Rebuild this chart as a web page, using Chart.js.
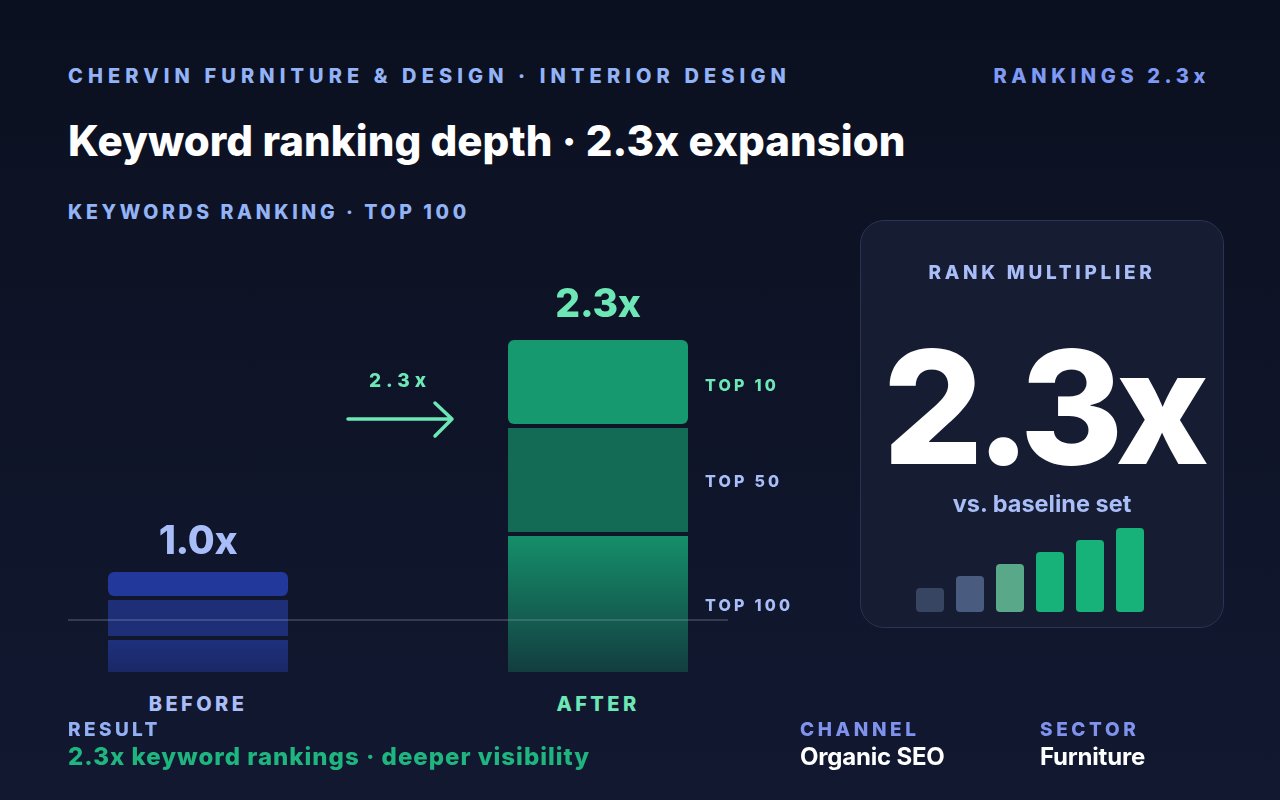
<!DOCTYPE html>
<html>
<head>
<meta charset="utf-8">
<script src="https://cdn.jsdelivr.net/npm/chart.js@4.4.1/dist/chart.umd.min.js"></script>
<style>
  html, body { margin: 0; padding: 0; }
  body {
    width: 1280px; height: 800px; overflow: hidden; position: relative;
    background: linear-gradient(180deg, #0b1020 0%, #121830 100%);
    font-family: Inter, "Noto Sans", sans-serif;
  }
  .t { position: absolute; white-space: nowrap; line-height: 1; }
  .kicker { font-size: 20px; font-weight: 800; letter-spacing: 5.1px; color: #93b3f7; }
  .title { font-size: 42px; font-weight: 800; letter-spacing: 0.05px; color: #ffffff; }
  .seg { font-size: 16px; font-weight: 800; letter-spacing: 3.2px; }
  .card {
    position: absolute; left: 860px; top: 220px; width: 362px; height: 406px;
    background: #161c32; border: 1.5px solid #2a3452; border-radius: 24px;
  }
  canvas { position: absolute; }
</style>
</head>
<body>

<!-- header -->
<div class="t kicker" style="left:68px; top:66px;">CHERVIN FURNITURE &amp; DESIGN · INTERIOR DESIGN</div>
<div class="t kicker" style="right:70px; top:66px; letter-spacing:4.6px; color:#7f9af5;">RANKINGS 2.3x</div>
<div class="t title" style="left:68px; top:120px;">Keyword ranking depth · 2.3x expansion</div>
<div class="t kicker" style="left:68px; top:203px; font-size:19.5px; letter-spacing:3.6px;">KEYWORDS RANKING · TOP 100</div>

<!-- main chart -->
<canvas id="depthChart" width="800" height="350" style="left:-2px; top:322px;"></canvas>
<div style="position:absolute; left:68px; top:619px; width:660px; height:1.5px; background:rgba(148,163,184,0.28);"></div>

<div class="t" style="left:98px; width:200px; text-align:center; top:520px; font-size:39px; font-weight:800; letter-spacing:-0.3px; color:#a9bdf8;">1.0x</div>
<div class="t" style="left:498px; width:200px; text-align:center; top:283px; font-size:39px; font-weight:800; letter-spacing:-0.3px; color:#6ee7b7;">2.3x</div>

<div class="t seg" style="left:705px; top:377px; color:#6ee7b7;">TOP 10</div>
<div class="t seg" style="left:705px; top:473px; color:#a9bdf8;">TOP 50</div>
<div class="t seg" style="left:705px; top:597px; color:#a9bdf8;">TOP 100</div>

<div class="t" style="left:98px; width:200px; text-align:center; top:694px; font-size:20px; font-weight:800; letter-spacing:3.4px; color:#a9bdf8;">BEFORE</div>
<div class="t" style="left:498px; width:200px; text-align:center; top:694px; font-size:20px; font-weight:800; letter-spacing:3.4px; color:#6ee7b7;">AFTER</div>

<!-- arrow -->
<div class="t" style="left:348px; width:104px; text-align:center; top:371px; font-size:19px; font-weight:800; letter-spacing:5px; color:#6ee7b7;">2.3x</div>
<svg style="position:absolute; left:0; top:0;" width="1280" height="800">
  <path d="M348 419 L452 419 M435 403 L452 419 L435 436" fill="none" stroke="#6ee7b7" stroke-width="3.5" stroke-linecap="round" stroke-linejoin="round"/>
</svg>

<!-- card -->
<div class="card"></div>
<div class="t" style="left:860px; width:364px; text-align:center; top:263px; font-size:19px; font-weight:800; letter-spacing:3.7px; color:#a9bdf8;">RANK MULTIPLIER</div>
<div class="t" style="left:860px; width:364px; text-align:center; top:328px; font-size:158px; font-weight:800; letter-spacing:-8px; color:#ffffff;">2.3x</div>
<div class="t" style="left:860px; width:364px; text-align:center; top:492px; font-size:23.5px; font-weight:700; color:#a9bdf8;">vs. baseline set</div>
<canvas id="miniChart" width="240" height="84" style="left:910px; top:528px;"></canvas>

<!-- footer -->
<div class="t kicker" style="left:68px; top:720px; font-size:19px; letter-spacing:3.4px; color:#93b0f5;">RESULT</div>
<div class="t" style="left:68px; top:745px; font-size:24px; font-weight:800; letter-spacing:1px; color:#1fb57f;">2.3x keyword rankings · deeper visibility</div>
<div class="t kicker" style="left:800px; top:720px; font-size:19px; letter-spacing:3.6px; color:#7f93ee;">CHANNEL</div>
<div class="t" style="left:800px; top:745px; font-size:24px; font-weight:700; letter-spacing:-0.2px; color:#ffffff;">Organic SEO</div>
<div class="t kicker" style="left:1040px; top:720px; font-size:19px; letter-spacing:3.6px; color:#7f93ee;">SECTOR</div>
<div class="t" style="left:1040px; top:745px; font-size:24px; font-weight:700; letter-spacing:-0.2px; color:#ffffff;">Furniture</div>

<script>
// --- data ---
const periods = ['BEFORE', 'AFTER'];
const top100 = [36, 140];   // bottom block (incl. 4-unit gap above)
const top50 = [40, 108];
const top10 = [24, 84];

const miniLabels = ['1', '2', '3', '4', '5', '6'];
const miniValues = [2, 3, 4, 5, 6, 7];
const miniColors = ['#374462', '#4a5b80', '#5aa88a', '#16b27a', '#16b27a', '#16b27a'];

const topColors = ['#22389b', '#17996f'];
const midColors = ['#1e2f78', '#136a55'];
const gradStops = [['#1f3280', '#1b2766'], ['#15916b', '#133d40']];

const gap = { top: 4, right: 0, bottom: 0, left: 0 };

// bottom block fades out towards the floor
function bottomFill(context) {
    const chart = context.chart;
    const i = context.dataIndex;
    if (!chart.chartArea) return gradStops[i][0];
    const y = chart.scales.y;
    const g = chart.ctx.createLinearGradient(0, y.getPixelForValue(top100[i]), 0, y.getPixelForValue(0));
    g.addColorStop(0, gradStops[i][0]);
    g.addColorStop(1, gradStops[i][1]);
    return g;
}

new Chart(document.getElementById('depthChart'), {
    type: 'bar',
    data: {
        labels: periods,
        datasets: [
            { label: 'Top 100', data: top100, backgroundColor: bottomFill,
              borderColor: 'rgba(0,0,0,0)', borderWidth: gap, borderSkipped: false },
            { label: 'Top 50', data: top50, backgroundColor: midColors,
              borderColor: 'rgba(0,0,0,0)', borderWidth: gap, borderSkipped: false },
            { label: 'Top 10', data: top10, backgroundColor: topColors, borderWidth: 0,
              borderSkipped: false,
              borderRadius: { topLeft: 6, topRight: 6, bottomLeft: 6, bottomRight: 6 } }
        ]
    },
    options: {
        responsive: false,
        animation: false,
        layout: { padding: 0 },
        datasets: { bar: { barPercentage: 0.45, categoryPercentage: 1 } },
        scales: {
            x: { stacked: true, display: false },
            y: { stacked: true, display: false, min: 0, max: 350 }
        },
        plugins: { legend: { display: false }, tooltip: { enabled: false } }
    }
});

new Chart(document.getElementById('miniChart'), {
    type: 'bar',
    data: {
        labels: miniLabels,
        datasets: [{
            data: miniValues,
            backgroundColor: miniColors,
            borderRadius: 4,
            borderSkipped: false,
            barPercentage: 0.7,
            categoryPercentage: 1
        }]
    },
    options: {
        responsive: false,
        animation: false,
        layout: { padding: 0 },
        scales: {
            x: { display: false },
            y: { display: false, min: 0, max: 7 }
        },
        plugins: { legend: { display: false }, tooltip: { enabled: false } }
    }
});
</script>
</body>
</html>
